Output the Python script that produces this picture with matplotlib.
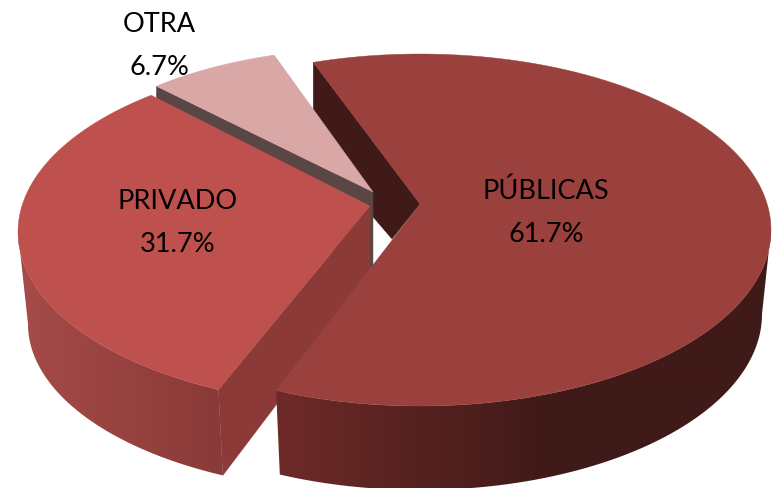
import numpy as np
import matplotlib
matplotlib.use("Agg")
import matplotlib.pyplot as plt
from matplotlib.colors import to_rgb
from matplotlib.patches import Polygon

categories = ["PÚBLICAS", "PRIVADO", "OTRA"]
values = [61.7, 31.7, 6.7]

W, H = 774, 489
fig = plt.figure(figsize=(W / 100, H / 100), dpi=100, facecolor="white")
ax = fig.add_axes([0, 0, 1, 1])

# slice angles, clockwise, derived from the values
START = 107.7
total = sum(values)
spans = [v / total * 360 for v in values]
bounds = {}
t = START + 360
for c, s in zip(categories, spans):
    bounds[c] = (t, t - s)
    t -= s


def arc(e, t0, t1, n=160):
    th = np.radians(np.linspace(t0, t1, n))
    return e[0] + e[2] * np.cos(th), e[1] - e[3] * np.sin(th)


def poly(x, y, color, z):
    ax.fill(x, y, facecolor=color, edgecolor=color, lw=0.3, zorder=z)


def side(top, bot, t0, t1, x0, x1, c0, c1, z):
    """Curved outer wall with a left-to-right shading clipped to its outline."""
    xt, yt = arc(top, t0, t1)
    xb, yb = arc(bot, t0, t1)
    outline = np.c_[np.r_[xt, xb[::-1]], np.r_[yt, yb[::-1]]]
    xs = np.linspace(0, W, W)
    f = np.clip((xs - x0) / (x1 - x0), 0, 1)[None, :, None]
    img = np.array(to_rgb(c0))[None, None, :] * (1 - f) + np.array(to_rgb(c1))[None, None, :] * f
    im = ax.imshow(img, extent=(0, W, H, 0), aspect="auto", zorder=z, interpolation="bilinear")
    clip = Polygon(outline, closed=True, transform=ax.transData)
    im.set_clip_path(clip)


# --- PÚBLICAS ---
t0, t1 = bounds["PÚBLICAS"]
top = (420, 231, 351, 176)
bot = (420, 315, 342, 176)
apex = (420, 205)
x, y = arc(top, t0 - 360, t0 - 360, 1)
poly([x[0], apex[0], 392, x[0]], [y[0], apex[1], 240, y[0] + 85], "#3f1a18", 1)
side(top, bot, t1, 360, 278, 550, "#6e2a28", "#3f1a18", 7)
px_, py_ = arc(top, t0 - 360, t1 - 360, 300)
poly(np.r_[apex[0], px_], np.r_[apex[1], py_], "#9a403d", 8)

# --- OTRA ---
t0, t1 = bounds["OTRA"]
top = (373, 199, 325, 150)
apex = (373, 193)
x, y = arc(top, t0, t1)
poly([x[0], apex[0], apex[0], x[0]], [y[0], apex[1], 270, y[0] + 82], "#5a4644", 2)
poly(np.r_[apex[0], x], np.r_[apex[1], y], "#d8a7a6", 3)

# --- PRIVADO ---
t0, t1 = bounds["PRIVADO"]
rot0, rot1 = -1.5, -3.2  # small perspective corrections at the two cut edges
top = (372, 233, 354, 175)
bot = (372, 325, 344, 168)
apex = (370, 207)
x, y = arc(top, t0 + rot0, t1 + rot1)
xb, yb = arc(bot, t0 + rot0, t0 + rot0, 1)
poly([apex[0], apex[0], xb[0], x[0]], [apex[1], 282, yb[0], y[0]], "#8b3a38", 5)
side(top, bot, 180, t0 + rot0, 22, 216, "#a54b48", "#8a3a38", 4)
poly(np.r_[apex[0], x], np.r_[apex[1], y], "#be504d", 6)

# --- labels ---
label_pos = {"PÚBLICAS": (546, 213), "PRIVADO": (178, 223), "OTRA": (159, 46)}
for c, v in zip(categories, values):
    lx, ly = label_pos[c]
    ax.text(lx, ly, f"{c}\n{v:.1f}%", ha="center", va="center", color="black",
            fontsize=19.5, family="Lato", linespacing=1.9, zorder=10)

ax.set_xlim(0, W)
ax.set_ylim(H, 0)
ax.axis("off")
fig.savefig("out.png", dpi=100, facecolor="white")
